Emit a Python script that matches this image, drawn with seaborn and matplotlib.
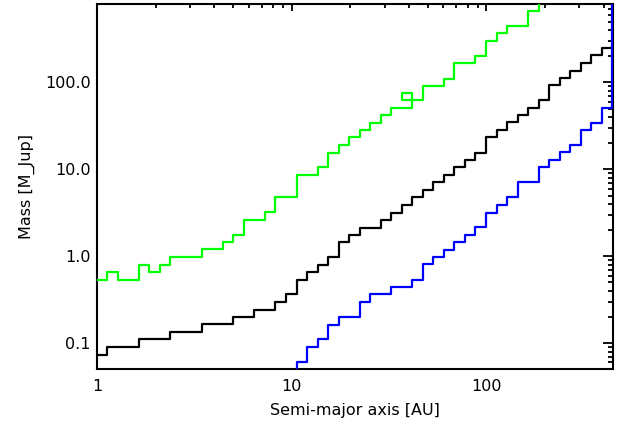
import pandas as pd
import matplotlib
matplotlib.use("Agg")
import matplotlib.pyplot as plt
import seaborn as sns
from matplotlib.ticker import FixedLocator, FixedFormatter, LogLocator, NullFormatter

# bin edges [AU] and mass level [M_Jup] of each step
green_edges = [1.0, 1.125, 1.274, 1.634, 1.851, 2.096, 2.374, 3.449, 4.424, 5.011,
               5.675, 7.280, 8.245, 10.58, 13.57, 15.37, 17.40, 19.71, 22.33, 25.28,
               28.64, 32.43, 41.60, 36.73, 47.12, 60.44, 68.46, 87.80, 99.45, 112.6,
               127.6, 163.7, 185.3, 443.1]
green_mass = [0.536, 0.657, 0.536, 0.797, 0.657, 0.797, 0.977, 1.208, 1.455, 1.765,
              2.627, 3.222, 4.746, 8.59, 10.51, 15.39, 18.83, 23.27, 28.55, 34.09,
              41.70, 50.74, 75.5, 62.06, 91.6, 110.3, 167.3, 203.0, 296.5, 366.6,
              449.5, 656.7, 1000.0]

black_edges = [1.0, 1.125, 1.634, 2.374, 3.449, 5.011, 6.428, 8.245, 9.339, 10.58,
               11.98, 13.57, 15.37, 17.40, 19.71, 22.33, 28.64, 32.43, 36.73, 41.60,
               47.12, 53.37, 60.44, 68.46, 77.54, 87.80, 99.45, 112.6, 127.6, 144.5,
               163.7, 185.3, 209.9, 237.8, 269.3, 305.0, 345.5, 391.3, 443.1]
black_mass = [0.0733, 0.0914, 0.1112, 0.136, 0.1655, 0.2009, 0.2437, 0.2989, 0.3665, 0.540,
              0.657, 0.797, 0.977, 1.455, 1.765, 2.142, 2.606, 3.187, 3.909, 4.746,
              5.82, 7.06, 8.66, 10.51, 12.65, 15.31, 23.27, 28.55, 34.64, 41.70,
              50.74, 62.06, 92.3, 112.4, 136.3, 167.3, 204.6, 248.9]

blue_edges = [9.339, 10.58, 11.98, 13.57, 15.37, 17.40, 22.33, 25.28, 32.43, 41.60,
              47.12, 53.37, 60.44, 68.46, 77.54, 87.80, 99.45, 112.6, 127.6, 144.5,
              185.3, 209.9, 237.8, 269.3, 305.0, 345.5, 391.3, 443.1, 500.0]
blue_mass = [0.04, 0.0614, 0.0914, 0.1121, 0.1625, 0.1993, 0.3013, 0.3665, 0.441, 0.536,
             0.812, 0.993, 1.186, 1.455, 1.765, 2.165, 3.187, 3.909, 4.746, 7.06,
             10.51, 12.89, 15.64, 19.03, 28.02, 34.09, 50.74, 1000.0]

x_ticks = [1, 10, 100]
x_tick_labels = ["1", "10", "100"]
y_ticks = [0.1, 1, 10, 100]
y_tick_labels = ["0.1", "1.0", "10.0", "100.0"]


def step_frame(edges, mass):
    # steps-post needs one y per x: repeat the last level at the closing edge
    return pd.DataFrame({"a": edges, "m": list(mass) + [mass[-1]]})


sns.set_style("white")
plt.rcParams["font.family"] = ["DejaVu Sans"]
plt.rcParams["text.color"] = "black"
plt.rcParams["axes.labelcolor"] = "black"

fig = plt.figure(figsize=(6.28, 4.21), dpi=100)
ax = fig.add_axes([0.1545, 0.1228, 0.8212, 0.8677])

for edges, mass, col in [(green_edges, green_mass, "#00ff00"),
                         (black_edges, black_mass, "black"),
                         (blue_edges, blue_mass, "#0000ff")]:
    sns.lineplot(data=step_frame(edges, mass), x="a", y="m", ax=ax,
                 sort=False, estimator=None, errorbar=None,
                 drawstyle="steps-post", color=col, linewidth=1.6, zorder=3)

ax.set_xscale("log")
ax.set_yscale("log")
ax.set_xlim(1, 445)
ax.set_ylim(0.05, 800)

ax.xaxis.set_major_locator(FixedLocator(x_ticks))
ax.xaxis.set_major_formatter(FixedFormatter(x_tick_labels))
ax.xaxis.set_minor_locator(LogLocator(base=10, subs=range(2, 10)))
ax.xaxis.set_minor_formatter(NullFormatter())
ax.yaxis.set_major_locator(FixedLocator(y_ticks))
ax.yaxis.set_major_formatter(FixedFormatter(y_tick_labels))
ax.yaxis.set_minor_locator(LogLocator(base=10, subs=range(2, 10)))
ax.yaxis.set_minor_formatter(NullFormatter())

ax.tick_params(which="both", direction="in", top=True, right=True,
               width=1.3, colors="black", labelsize=11.5)
ax.tick_params(axis="x", which="major", length=5.3, pad=7)
ax.tick_params(axis="x", which="minor", length=2.6)
ax.tick_params(axis="y", which="major", length=7.4, pad=4.5)
ax.tick_params(axis="y", which="minor", length=3.7)

for sp in ax.spines.values():
    sp.set_linewidth(1.5)
    sp.set_color("black")

ax.set_xlabel("Semi-major axis [AU]", fontsize=11.5, labelpad=6.5, color="black")
ax.set_ylabel("Mass [M_Jup]", fontsize=11.5, labelpad=7, color="black")

fig.savefig("out.png", dpi=100)
